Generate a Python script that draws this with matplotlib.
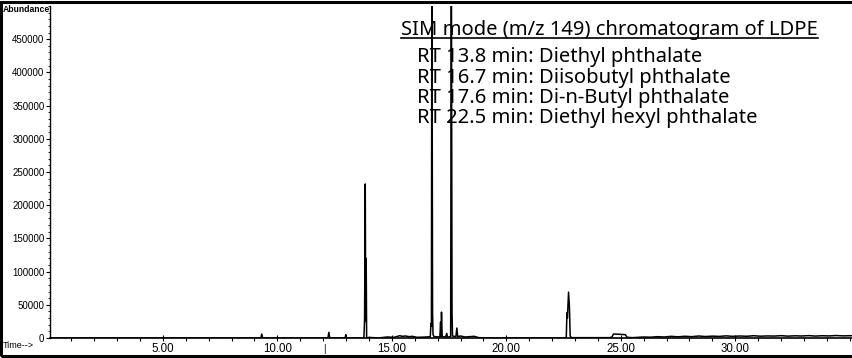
import matplotlib
matplotlib.use("Agg")
import matplotlib.pyplot as plt
from matplotlib.patches import Rectangle
from matplotlib.lines import Line2D

# ---------------- data ----------------
trace_time = [0.07, 9.28, 9.32, 9.36, 12.21, 12.25, 12.29, 12.96, 12.99, 13.02,
              13.78, 13.81, 13.84, 13.86, 13.88, 13.90, 13.94, 14.0, 14.4, 14.8,
              15.1, 15.35, 15.45, 15.6, 15.75, 15.9, 16.1, 16.5,
              16.68, 16.71, 16.73, 16.75, 16.78, 16.80, 16.85,
              17.10, 17.13, 17.15, 17.17, 17.20, 17.35, 17.40, 17.43,
              17.57, 17.60, 17.63, 17.65, 17.80, 17.84, 17.88, 18.0, 18.2, 18.6, 18.8,
              19.5, 22.60, 22.62, 22.65, 22.67, 22.72, 22.76, 22.79, 22.85,
              24.5, 24.62, 24.68, 25.0, 25.2, 25.28, 25.5, 26.0,
              26.3, 26.6, 26.9, 27.2, 27.5, 27.8, 28.1, 28.4, 28.7, 29.0,
              29.3, 29.6, 29.9, 30.2, 30.5, 30.8, 31.1, 31.4, 31.7, 32.0,
              32.3, 32.6, 32.9, 33.2, 33.5, 33.8, 34.1, 34.4, 34.7, 35.1]
trace_abundance = [0, 0, 6000, 0, 0, 8500, 0, 0, 5000, 0,
                   0, 27000, 232000, 25000, 120000, 2000, 0, 1000, 0, 1500,
                   1000, 3500, 2500, 3000, 2000, 2500, 1000, 1500,
                   2000, 22000, 18000, 600000, 39000, 5000, 2000,
                   1500, 24000, 3000, 39000, 2000, 1500, 7000, 1500,
                   2000, 600000, 39000, 3000, 2000, 15000, 2000, 3000, 1500, 2500, 500,
                   0, 0, 1500, 38000, 30000, 69000, 45000, 3000, 500,
                   500, 1500, 6000, 5500, 5000, 1000, 500, 1500,
                   1200, 2000, 1500, 2500, 1800, 2600, 2000, 3000, 2200, 2800,
                   2400, 3200, 2500, 3000, 2600, 3400, 2700, 3100, 2900, 3500,
                   2800, 3300, 3000, 3600, 2900, 3400, 3100, 3700, 3200, 3500]

y_ticks = [0, 50000, 100000, 150000, 200000, 250000, 300000, 350000, 400000, 450000]
x_ticks = [5, 10, 15, 20, 25, 30]
x_tick_labels = ["5.00", "10.00", "15.00", "20.00", "25.00", "30.00"]

title_text = "SIM mode (m/z 149) chromatogram of LDPE"
legend_lines = ["RT 13.8 min: Diethyl phthalate",
                "RT 16.7 min: Diisobutyl phthalate",
                "RT 17.6 min: Di-n-Butyl phthalate",
                "RT 22.5 min: Diethyl hexyl phthalate"]

# ---------------- figure ----------------
W, H = 852, 358
fig = plt.figure(figsize=(W / 100, H / 100), dpi=100)
fig.patch.set_facecolor("white")

def fx(px):
    return px / W

def fy(py):
    return 1 - py / H

ax = fig.add_axes([fx(50), fy(338), fx(852) - fx(50), fy(6) - fy(338)])
ax.plot(trace_time, trace_abundance, color="black", lw=1.1, zorder=5)
ax.set_xlim(0.07, 35.1)
ax.set_ylim(0, 500000)

for s in ["top", "right"]:
    ax.spines[s].set_visible(False)
ax.spines["left"].set_linewidth(1.0)
ax.spines["bottom"].set_linewidth(1.2)

ax.set_yticks(y_ticks)
ax.set_yticklabels([str(v) for v in y_ticks], fontfamily="Liberation Sans", fontsize=7)
ax.set_yticks(list(range(0, 500001, 10000)), minor=True)
ax.tick_params(axis="y", which="major", direction="out", length=3, width=0.8, pad=1)
ax.tick_params(axis="y", which="minor", direction="out", length=1.8, width=0.6)

ax.set_xticks(x_ticks)
ax.set_xticklabels(x_tick_labels, fontfamily="Liberation Sans", fontsize=8.3)
ax.set_xticks(list(range(1, 36)), minor=True)
ax.tick_params(axis="x", which="major", direction="inout", length=5, width=0.8, pad=1)
ax.tick_params(axis="x", which="minor", direction="out", length=2.5, width=0.8)

# corner labels
fig.text(fx(3), fy(9), "Abundance", fontfamily="Liberation Sans", fontsize=6.2,
         fontweight="bold", va="center", ha="left")
fig.text(fx(3), fy(346), "Time-->", fontfamily="Liberation Sans", fontsize=6.5,
         va="center", ha="left")
fig.text(fx(324), fy(349), "|", fontfamily="Liberation Sans", fontsize=7,
         va="center", ha="center")

# annotation text
tfont = dict(fontfamily="Noto Sans", fontsize=14.5, color="black")
title = fig.text(fx(401), fy(35), title_text, va="baseline", ha="left", zorder=1, **tfont)
for i, line in enumerate(legend_lines):
    fig.text(fx(417), fy(62 + 20.5 * i), line, va="baseline", ha="left", zorder=1, **tfont)

fig.canvas.draw()
bb = title.get_window_extent()
fig.add_artist(Line2D([bb.x0 / W, bb.x1 / W], [fy(37.5), fy(37.5)],
                      transform=fig.transFigure, color="black", lw=1.2))

# outer frame
fig.add_artist(Rectangle((fx(1), fy(356)), fx(856) - fx(1), fy(2) - fy(356),
                         transform=fig.transFigure, fill=False, edgecolor="black", lw=2.2))

fig.savefig("out.png", dpi=100)
